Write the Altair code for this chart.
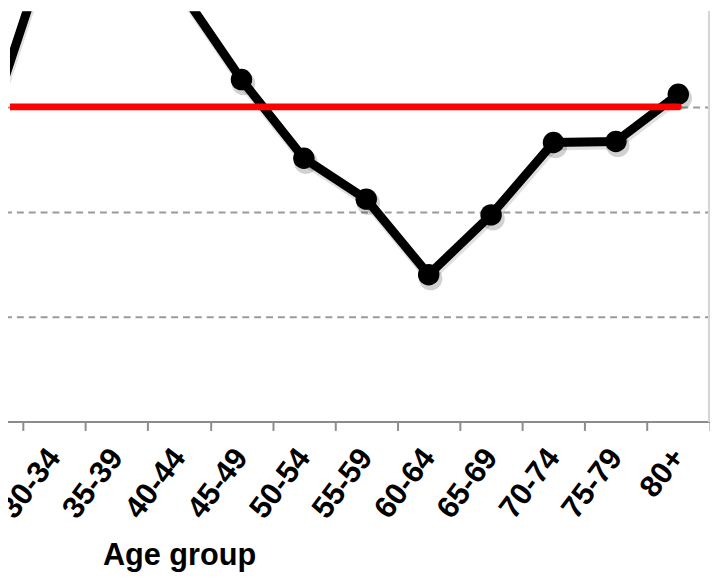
import altair as alt
import pandas as pd

# Full category list of the original chart (only the right part is in view)
categories = ["0-4", "5-9", "10-14", "15-19", "20-24", "25-29", "30-34", "35-39",
              "40-44", "45-49", "50-54", "55-59", "60-64", "65-69", "70-74",
              "75-79", "80+"]

# Series values (those above/left of the visible crop are estimates)
series_cats = ["25-29", "30-34", "40-44", "45-49", "50-54", "55-59", "60-64",
               "65-69", "70-74", "75-79", "80+"]
series_vals = [2.90, 4.70, 4.13, 3.26, 2.51, 2.12, 1.40, 1.97, 2.66, 2.67, 3.12]

# Reference (red) line
ref_cats = ["0-4", "80+"]
ref_vals = [3.0, 3.0]

grid_values = [1, 2, 3, 4]

df = pd.DataFrame({"cat": series_cats, "v": series_vals})
ref = pd.DataFrame({"cat": ref_cats, "v": ref_vals})

FONT = "Liberation Sans"

x_enc = alt.X(
    "cat:N",
    sort=categories,
    bandPosition=0.5,
    scale=alt.Scale(type="band", domain=categories, range=[-365.5, 707.5],
                    paddingInner=0, paddingOuter=0),
    axis=alt.Axis(
        title="Age group",
        titleFont=FONT, titleFontSize=31, titleFontWeight="bold", titleColor="#000000",
        titleBaseline="alphabetic", titleY=145,
        labelFont=FONT, labelFontSize=31, labelFontWeight="bold", labelColor="#000000",
        labelAngle=-53, labelAlign="right", labelBaseline="middle", labelPadding=22,
        labelOverlap=False, labelFlush=False, labelLimit=400,
        tickBand="extent", tickSize=9, tickWidth=2, tickColor="#8c8c8c",
        domainColor="#8c8c8c", domainWidth=2, grid=False,
    ),
)

y_enc = alt.Y(
    "v:Q",
    scale=alt.Scale(domain=[0, 3.912], nice=False, zero=True),
    axis=alt.Axis(
        title=None, labels=False, ticks=False, domain=False,
        values=grid_values, grid=True, gridDash=[7, 5], gridColor="#9a9a9a",
        gridWidth=2,
    ),
)

base = alt.Chart(df).encode(x=x_enc, y=y_enc)

line_shadow = base.mark_line(clip=True, color="#000000", opacity=0.12,
                             strokeWidth=10, yOffset=3, xOffset=1)
pt_shadow = base.mark_circle(clip=True, color="#000000", opacity=0.18,
                             size=560, xOffset=2, yOffset=4)
line = base.mark_line(clip=True, color="#000000", strokeWidth=9,
                      strokeJoin="round")
pts = base.mark_circle(clip=True, color="#000000", opacity=1, size=470)

red = alt.Chart(ref).mark_line(clip=True, color="#ff0000", strokeWidth=7,
                               strokeCap="round").encode(x=x_enc, y=y_enc)

edge = alt.Chart(df).mark_rule(color="#d4d4d4", strokeWidth=1).encode(
    x=alt.value(707), y=alt.value(0), y2=alt.value(415)
)

chart = alt.layer(line_shadow, pt_shadow, line, pts, red, edge).properties(
    width=708, height=415,
    background="#ffffff",
    autosize=alt.AutoSizeParams(type="none"),
    padding={"left": 2, "top": 0, "right": 0, "bottom": 152},
).configure_view(stroke=None, strokeWidth=0)

chart.save("out.html", embed_options={"renderer": "svg", "actions": False})
